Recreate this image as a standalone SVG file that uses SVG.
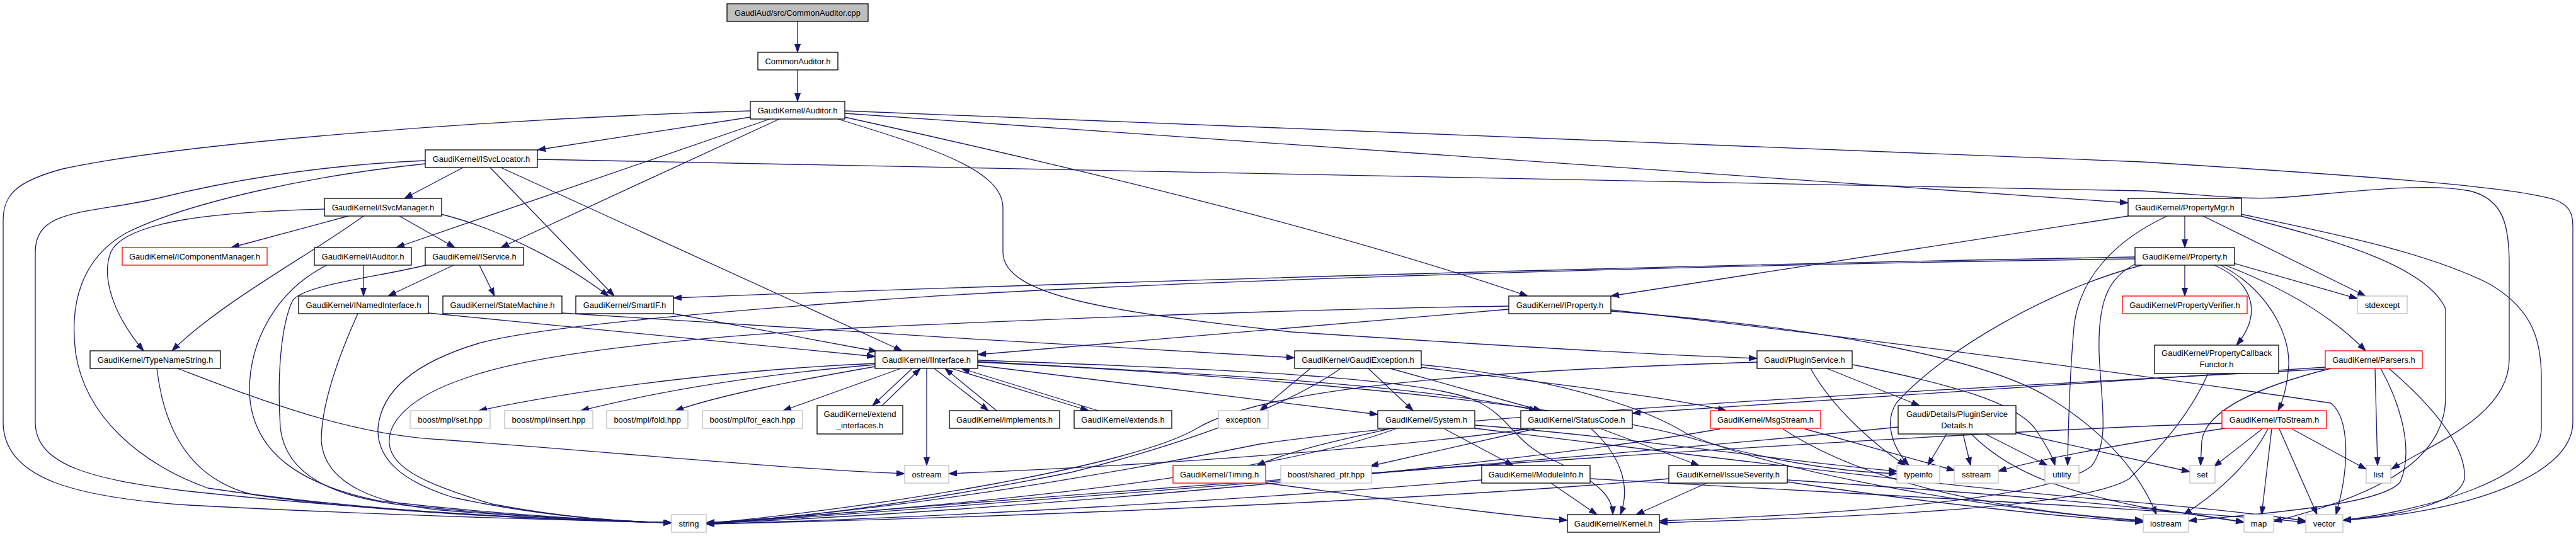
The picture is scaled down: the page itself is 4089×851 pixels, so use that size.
<svg xmlns="http://www.w3.org/2000/svg" width="4089" height="851" viewBox="0 0 4089 851">
<defs>
<marker id="arr" markerWidth="13" markerHeight="10" refX="13" refY="5" orient="auto" markerUnits="userSpaceOnUse"><path d="M0,0.5 L13,5 L0,9.5 z" fill="#191970" stroke="#191970" stroke-width="1"/></marker>
<style>
.e{fill:none;stroke:#191970;stroke-width:1.3;marker-end:url(#arr)}
.n rect{fill:#fff;stroke:#000;stroke-width:1.3}
.n.g rect{stroke:#bfbfbf}
.n.r rect{stroke:#ff0000}
.n.root rect{fill:#bfbfbf}
text{font-family:"Liberation Sans",Arial,Helvetica,sans-serif;font-size:13px;text-anchor:middle;fill:#000}
</style>
</defs>
<rect width="4089" height="851" fill="#fff"/>
<g id="connectors">
<path class="e" d="M1266,34 L1266,83"/>
<path class="e" d="M1266,111 L1266,161"/>
<path class="e" d="M1191,186 L853,238"/>
<path class="e" d="M1222,189 L629,393"/>
<path class="e" d="M1237,189 L795,393"/>
<path class="e" d="M1341,186 C1700,265 2100,360 2425,470"/>
<path class="e" d="M1341,180 L3378,322"/>
<path class="e" d="M1330,189 C1480,235 1592,270 1592,330 L1592,400 C1592,470 1760,495 2050,527 C2400,550 2600,562 2789,569"/>
<path class="e" d="M1191,176 C800,188 300,225 100,268 C25,288 5,310 5,350 L5,670 C5,760 120,790 300,802 C600,818 900,826 1066,830"/>
<path class="e" d="M1341,176 L3400,257 C3800,282 4000,298 4058,318 C4080,328 4084,340 4084,360 L4084,670 C4084,760 3900,815 3719,826"/>
<path class="e" d="M735,266 L642,315"/>
<path class="e" d="M778,266 L975,470"/>
<path class="e" d="M795,266 L1432,557"/>
<path class="e" d="M675,255 C500,262 350,290 250,315 C140,340 56,330 56,400 L56,670 C56,740 150,762 300,780 C600,812 900,826 1066,830"/>
<path class="e" d="M675,260 C500,278 300,320 200,370 C130,410 110,480 120,560 C135,660 220,735 330,775 C600,815 900,827 1066,830"/>
<path class="e" d="M853,253 L3400,303 C3520,311 3570,318 3630,313 C3750,303 3850,290 3920,303 C3975,316 3983,360 3983,420 L3983,570 C3983,660 3860,705 3796,745"/>
<path class="e" d="M553,343 L367,393"/>
<path class="e" d="M577,343 C500,400 350,480 273,557"/>
<path class="e" d="M634,343 L722,393"/>
<path class="e" d="M700,340 C800,365 900,420 966,470"/>
<path class="e" d="M515,332 C350,336 200,350 176,400 C160,440 180,500 228,557"/>
<path class="e" d="M577,421 L577,470"/>
<path class="e" d="M519,421 C440,460 396,540 396,620 C398,720 480,770 600,795 C800,818 950,826 1066,830"/>
<path class="e" d="M720,421 L616,470"/>
<path class="e" d="M676,421 C600,440 480,452 464,478 C445,520 440,600 445,680 C455,760 540,792 650,803 C820,820 950,826 1066,830"/>
<path class="e" d="M761,421 L785,470"/>
<path class="e" d="M680,497 L1389,566"/>
<path class="e" d="M568,498 C540,560 510,640 510,700 C515,770 600,800 700,810 C850,822 960,827 1066,830"/>
<path class="e" d="M892,497 C1200,518 1700,548 2055,568"/>
<path class="e" d="M1069,498 L1392,558"/>
<path class="e" d="M249,585 C260,680 300,760 400,785 C600,815 900,826 1066,830"/>
<path class="e" d="M282,585 C400,630 550,690 700,698 C1000,720 1250,745 1436,752"/>
<path class="e" d="M1389,577 C1200,585 950,612 760,652"/>
<path class="e" d="M1389,579 C1200,595 1050,620 922,652"/>
<path class="e" d="M1389,582 C1270,603 1150,625 1072,652"/>
<path class="e" d="M1430,585 L1243,652"/>
<path class="e" d="M1448,585 L1385,644"/>
<path class="e" d="M1400,644 L1461,585"/>
<path class="e" d="M1483,585 L1569,652"/>
<path class="e" d="M1582,652 L1500,585"/>
<path class="e" d="M1510,585 L1728,652"/>
<path class="e" d="M1743,652 L1526,585"/>
<path class="e" d="M1471,585 L1471,739"/>
<path class="e" d="M1552,580 L2187,658"/>
<path class="e" d="M1552,575 C1900,592 2250,610 2440,652"/>
<path class="e" d="M1552,572 C1900,584 2250,598 2340,635 C2400,662 2400,700 2460,728 C2540,765 2560,790 2560,817"/>
<path class="e" d="M1552,574 C2000,598 2500,640 2700,700 C2850,742 2950,750 3011,752"/>
<path class="e" d="M2080,585 L2000,652"/>
<path class="e" d="M2128,585 C2050,640 1900,700 1700,750 C1450,800 1250,825 1121,830"/>
<path class="e" d="M2172,585 L2243,652"/>
<path class="e" d="M2207,585 L2447,652"/>
<path class="e" d="M2256,583 C2450,608 2650,630 2740,652"/>
<path class="e" d="M2256,579 C2450,598 2600,640 2680,690 C2850,760 3200,812 3402,828"/>
<path class="e" d="M2205,681 C2120,700 2050,715 1995,739"/>
<path class="e" d="M2293,681 L2402,739"/>
<path class="e" d="M2215,681 C2000,760 1500,805 1121,830"/>
<path class="e" d="M2341,680 C2600,712 3000,762 3300,790 C3500,806 3600,818 3660,827"/>
<path class="e" d="M2341,675 C2600,695 2850,735 3011,748"/>
<path class="e" d="M2436,681 L2175,740"/>
<path class="e" d="M2526,681 C2570,720 2590,770 2572,817"/>
<path class="e" d="M2542,681 L2697,739"/>
<path class="e" d="M2425,681 C2250,706 1900,736 1506,752"/>
<path class="e" d="M2865,681 L3103,747"/>
<path class="e" d="M2830,681 C2950,760 3150,810 3402,826"/>
<path class="e" d="M2730,681 C2400,740 1600,812 1121,831"/>
<path class="e" d="M2709,767 L2597,817"/>
<path class="e" d="M2649,760 C2300,792 1600,822 1121,832"/>
<path class="e" d="M2837,762 C3100,780 3400,800 3562,829"/>
<path class="e" d="M2837,765 C3000,790 3250,820 3402,829"/>
<path class="e" d="M2462,767 L2535,817"/>
<path class="e" d="M2352,762 C2000,792 1500,822 1121,832"/>
<path class="e" d="M2525,760 C2900,782 3400,806 3660,829"/>
<path class="e" d="M2009,767 C2150,785 2350,815 2488,826"/>
<path class="e" d="M2900,585 L3047,644"/>
<path class="e" d="M2874,585 C2910,650 2980,710 3025,739"/>
<path class="e" d="M2941,579 C3100,610 3200,640 3230,680 C3250,710 3258,725 3262,739"/>
<path class="e" d="M2789,575 C2300,590 2000,620 1900,680 C1800,740 1400,805 1121,831"/>
<path class="e" d="M3090,689 L3060,739"/>
<path class="e" d="M3116,689 L3128,739"/>
<path class="e" d="M3151,689 L3250,739"/>
<path class="e" d="M3129,689 C3180,740 3250,775 3400,805 C3480,816 3530,825 3562,829"/>
<path class="e" d="M3013,678 C2600,720 1700,792 1121,832"/>
<path class="e" d="M3200,687 L3476,749"/>
<path class="e" d="M3468,343 L3468,393"/>
<path class="e" d="M3378,343 L2557,470"/>
<path class="e" d="M3440,343 C3360,380 3300,440 3292,520 C3285,600 3283,680 3282,739"/>
<path class="e" d="M3497,343 L3755,470"/>
<path class="e" d="M3557,340 C3700,370 3850,400 3950,450 C4020,490 4034,540 4034,600 L4034,680 C4034,760 3850,810 3719,826"/>
<path class="e" d="M3557,343 C3700,380 3850,420 3882,490 L3882,630 C3882,720 3800,780 3609,828"/>
<path class="e" d="M3389,408 C2800,418 1800,445 1069,473"/>
<path class="e" d="M3389,411 C2600,422 1700,452 1370,478 C1100,498 850,520 760,545 C660,575 605,620 600,680 C598,730 640,765 720,790 C860,820 980,828 1066,830"/>
<path class="e" d="M3468,421 L3468,470"/>
<path class="e" d="M3546,418 L3742,474"/>
<path class="e" d="M3515,421 C3580,450 3590,500 3550,548"/>
<path class="e" d="M3525,421 C3600,460 3635,530 3633,580 C3630,620 3622,640 3616,652"/>
<path class="e" d="M3532,421 C3620,455 3700,500 3755,557"/>
<path class="e" d="M3400,421 C3250,460 3080,560 3010,640 C2990,672 3005,712 3030,739"/>
<path class="e" d="M3392,418 C3345,440 3330,480 3332,560 C3335,640 3350,700 3320,740 C3250,795 2900,817 2634,827"/>
<path class="e" d="M3505,593 C3480,650 3440,700 3380,760 C3300,810 2900,822 2634,830"/>
<path class="e" d="M3691,583 C3300,608 2900,634 2591,656"/>
<path class="e" d="M3691,586 C3000,622 2300,660 2000,705 C1700,765 1400,812 1121,831"/>
<path class="e" d="M3700,585 C3560,620 3500,660 3495,700 L3493,739"/>
<path class="e" d="M3770,585 L3774,739"/>
<path class="e" d="M3779,585 C3815,650 3830,720 3810,765 C3780,805 3550,818 3474,827"/>
<path class="e" d="M3792,585 C3880,660 3915,720 3912,760 C3905,800 3800,820 3719,826"/>
<path class="e" d="M3591,681 L3514,741"/>
<path class="e" d="M3600,681 C3570,740 3510,790 3466,817"/>
<path class="e" d="M3606,681 L3590,817"/>
<path class="e" d="M3618,681 L3678,817"/>
<path class="e" d="M3638,681 L3756,745"/>
<path class="e" d="M3532,680 C3400,700 3250,725 3172,748"/>
<path class="e" d="M3527,672 C3000,690 2000,760 1121,832"/>
<path class="e" d="M2395,491 L1552,563"/>
<path class="e" d="M2395,486 C2100,490 1700,505 1370,520 C1100,535 850,560 740,600 C650,630 615,670 618,705 C622,745 680,770 780,800 C900,823 990,828 1066,830"/>
<path class="e" d="M2557,492 C2900,530 3400,595 3700,640 C3730,665 3730,740 3708,817"/>
<path class="e" d="M2557,494 C2900,520 3150,570 3250,630 C3350,690 3400,760 3423,817"/>
</g>
<g id="n_cpp" class="n root"><rect x="1154" y="6" width="224" height="28"/><text x="1266" y="24.5">GaudiAud/src/CommonAuditor.cpp</text></g>
<g id="n_cah" class="n"><rect x="1203" y="83" width="127" height="28"/><text x="1266.5" y="101.5">CommonAuditor.h</text></g>
<g id="n_aud" class="n"><rect x="1191" y="161" width="150" height="28"/><text x="1266" y="179.5">GaudiKernel/Auditor.h</text></g>
<g id="n_isl" class="n"><rect x="675" y="238" width="178" height="28"/><text x="764" y="256.5">GaudiKernel/ISvcLocator.h</text></g>
<g id="n_ism" class="n"><rect x="515" y="315" width="186" height="28"/><text x="608" y="333.5">GaudiKernel/ISvcManager.h</text></g>
<g id="n_pmgr" class="n"><rect x="3378" y="315" width="180" height="28"/><text x="3468" y="333.5">GaudiKernel/PropertyMgr.h</text></g>
<g id="n_icm" class="n r"><rect x="194" y="393" width="230" height="28"/><text x="309" y="411.5">GaudiKernel/IComponentManager.h</text></g>
<g id="n_iaud" class="n"><rect x="499" y="393" width="154" height="28"/><text x="576" y="411.5">GaudiKernel/IAuditor.h</text></g>
<g id="n_isvc" class="n"><rect x="675" y="393" width="156" height="28"/><text x="753" y="411.5">GaudiKernel/IService.h</text></g>
<g id="n_prop" class="n"><rect x="3389" y="393" width="158" height="28"/><text x="3468" y="411.5">GaudiKernel/Property.h</text></g>
<g id="n_ini" class="n"><rect x="474" y="470" width="206" height="28"/><text x="577" y="488.5">GaudiKernel/INamedInterface.h</text></g>
<g id="n_sm" class="n"><rect x="703" y="470" width="189" height="28"/><text x="797.5" y="488.5">GaudiKernel/StateMachine.h</text></g>
<g id="n_sif" class="n"><rect x="914" y="470" width="155" height="28"/><text x="991.5" y="488.5">GaudiKernel/SmartIF.h</text></g>
<g id="n_iprop" class="n"><rect x="2395" y="470" width="162" height="28"/><text x="2476" y="488.5">GaudiKernel/IProperty.h</text></g>
<g id="n_pver" class="n r"><rect x="3369" y="470" width="198" height="28"/><text x="3468" y="488.5">GaudiKernel/PropertyVerifier.h</text></g>
<g id="n_stdexc" class="n g"><rect x="3742" y="470" width="79" height="28"/><text x="3781.5" y="488.5">stdexcept</text></g>
<g id="n_tns" class="n"><rect x="143" y="557" width="207" height="28"/><text x="246.5" y="575.5">GaudiKernel/TypeNameString.h</text></g>
<g id="n_iif" class="n"><rect x="1389" y="557" width="163" height="28"/><text x="1470.5" y="575.5">GaudiKernel/IInterface.h</text></g>
<g id="n_gex" class="n"><rect x="2055" y="557" width="201" height="28"/><text x="2155.5" y="575.5">GaudiKernel/GaudiException.h</text></g>
<g id="n_ps" class="n"><rect x="2789" y="557" width="151" height="28"/><text x="2864.5" y="575.5">Gaudi/PluginService.h</text></g>
<g id="n_pcf" class="n"><rect x="3420" y="548" width="197" height="45"/><text x="3518.5" y="565">GaudiKernel/PropertyCallback</text><text x="3518.5" y="583">Functor.h</text></g>
<g id="n_pars" class="n r"><rect x="3691" y="557" width="154" height="28"/><text x="3768" y="575.5">GaudiKernel/Parsers.h</text></g>
<g id="n_mplset" class="n g"><rect x="651" y="652" width="127" height="28"/><text x="714.5" y="670.5">boost/mpl/set.hpp</text></g>
<g id="n_ins" class="n g"><rect x="801" y="652" width="140" height="28"/><text x="871" y="670.5">boost/mpl/insert.hpp</text></g>
<g id="n_fold" class="n g"><rect x="963" y="652" width="129" height="28"/><text x="1027.5" y="670.5">boost/mpl/fold.hpp</text></g>
<g id="n_fe" class="n g"><rect x="1115" y="652" width="159" height="28"/><text x="1194.5" y="670.5">boost/mpl/for_each.hpp</text></g>
<g id="n_ei" class="n"><rect x="1297" y="644" width="136" height="45"/><text x="1365" y="662">GaudiKernel/extend</text><text x="1365" y="680">_interfaces.h</text></g>
<g id="n_impl" class="n"><rect x="1507" y="652" width="175" height="28"/><text x="1594.5" y="670.5">GaudiKernel/implements.h</text></g>
<g id="n_ext" class="n"><rect x="1705" y="652" width="155" height="28"/><text x="1782.5" y="670.5">GaudiKernel/extends.h</text></g>
<g id="n_exc" class="n g"><rect x="1934" y="652" width="79" height="28"/><text x="1973.5" y="670.5">exception</text></g>
<g id="n_sys" class="n"><rect x="2187" y="652" width="154" height="28"/><text x="2264" y="670.5">GaudiKernel/System.h</text></g>
<g id="n_sc" class="n"><rect x="2414" y="652" width="177" height="28"/><text x="2502.5" y="670.5">GaudiKernel/StatusCode.h</text></g>
<g id="n_msg" class="n r"><rect x="2715" y="652" width="175" height="28"/><text x="2802.5" y="670.5">GaudiKernel/MsgStream.h</text></g>
<g id="n_psd" class="n"><rect x="3013" y="644" width="187" height="45"/><text x="3106.5" y="662">Gaudi/Details/PluginService</text><text x="3106.5" y="680">Details.h</text></g>
<g id="n_ts" class="n r"><rect x="3527" y="652" width="166" height="28"/><text x="3610" y="670.5">GaudiKernel/ToStream.h</text></g>
<g id="n_ostr" class="n g"><rect x="1436" y="739" width="70" height="28"/><text x="1471" y="757.5">ostream</text></g>
<g id="n_tim" class="n r"><rect x="1862" y="739" width="147" height="28"/><text x="1935.5" y="757.5">GaudiKernel/Timing.h</text></g>
<g id="n_shp" class="n g"><rect x="2033" y="739" width="144" height="28"/><text x="2105" y="757.5">boost/shared_ptr.hpp</text></g>
<g id="n_mi" class="n"><rect x="2352" y="739" width="172" height="28"/><text x="2438" y="757.5">GaudiKernel/ModuleInfo.h</text></g>
<g id="n_is" class="n"><rect x="2649" y="739" width="188" height="28"/><text x="2743" y="757.5">GaudiKernel/IssueSeverity.h</text></g>
<g id="n_ti" class="n g"><rect x="3011" y="739" width="68" height="28"/><text x="3045" y="757.5">typeinfo</text></g>
<g id="n_ss" class="n g"><rect x="3102" y="739" width="70" height="28"/><text x="3137" y="757.5">sstream</text></g>
<g id="n_ut" class="n g"><rect x="3246" y="739" width="54" height="28"/><text x="3273" y="757.5">utility</text></g>
<g id="n_set" class="n g"><rect x="3476" y="739" width="40" height="28"/><text x="3496" y="757.5">set</text></g>
<g id="n_list" class="n g"><rect x="3756" y="739" width="39" height="28"/><text x="3775.5" y="757.5">list</text></g>
<g id="n_str" class="n g"><rect x="1066" y="817" width="55" height="28"/><text x="1093.5" y="835.5">string</text></g>
<g id="n_ker" class="n"><rect x="2488" y="817" width="146" height="28"/><text x="2561" y="835.5">GaudiKernel/Kernel.h</text></g>
<g id="n_ios" class="n g"><rect x="3402" y="817" width="72" height="28"/><text x="3438" y="835.5">iostream</text></g>
<g id="n_map" class="n g"><rect x="3562" y="817" width="47" height="28"/><text x="3585.5" y="835.5">map</text></g>
<g id="n_vec" class="n g"><rect x="3660" y="817" width="59" height="28"/><text x="3689.5" y="835.5">vector</text></g>
</svg>
